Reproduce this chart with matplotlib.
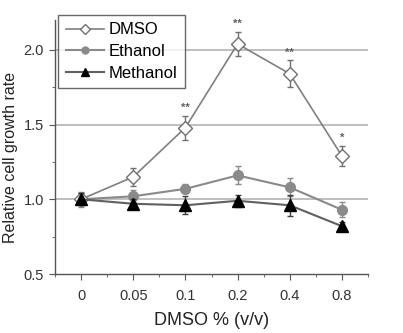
import matplotlib
matplotlib.use("Agg")
import matplotlib.pyplot as plt
from matplotlib.lines import Line2D
from matplotlib.ticker import MultipleLocator

plt.rcParams["font.family"] = ["Liberation Sans", "DejaVu Sans"]

# concentrations (categorical x axis)
conc_labels = ["0", "0.05", "0.1", "0.2", "0.4", "0.8"]

dmso = [1.00, 1.15, 1.48, 2.04, 1.84, 1.29]
dmso_err = [0.04, 0.06, 0.08, 0.08, 0.09, 0.07]
ethanol = [1.00, 1.02, 1.07, 1.16, 1.08, 0.93]
ethanol_err = [0.05, 0.04, 0.03, 0.06, 0.06, 0.05]
methanol = [1.00, 0.97, 0.96, 0.99, 0.96, 0.82]
methanol_err = [0.04, 0.03, 0.06, 0.04, 0.07, 0.03]

# significance marks over the DMSO series
stars = ["", "", "**", "**", "**", "*"]

x = list(range(len(conc_labels)))

fig = plt.figure(figsize=(4.03, 3.33), dpi=100)
ax = fig.add_axes([55 / 403, 59 / 333, 313 / 403, 254 / 333])

for yv in [1.0, 1.5, 2.0]:
    ax.axhline(yv, color="#b4b4b4", lw=1.2, zorder=0)

ax.errorbar(x, dmso, yerr=dmso_err, color="#808080", lw=1.2, marker="D",
            ms=7, mfc="white", mec="#707070", mew=1.0, ecolor="#707070",
            elinewidth=1.0, capsize=2.5, zorder=3)
ax.errorbar(x, ethanol, yerr=ethanol_err, color="#8a8a8a", lw=1.5, marker="o",
            ms=7, mfc="#8a8a8a", mec="#8a8a8a", ecolor="#8a8a8a",
            elinewidth=1.0, capsize=2.5, zorder=2)
ax.errorbar(x, methanol, yerr=methanol_err, color="#606060", lw=1.5, marker="^",
            ms=8, mfc="black", mec="black", ecolor="#404040",
            elinewidth=1.0, capsize=2.5, zorder=4)

for xi, v, e, s in zip(x, dmso, dmso_err, stars):
    if s:
        ax.text(xi, v + e + 0.02, s, ha="center", va="bottom",
                fontsize=8, color="#606060", fontweight="bold")

ax.set_xlim(-0.5, 5.5)
ax.set_ylim(0.5, 2.2)
ax.set_xticks(x)
ax.set_xticklabels(conc_labels)
ax.xaxis.set_minor_locator(MultipleLocator(0.5))
ax.set_yticks([0.5, 1.0, 1.5, 2.0])
ax.yaxis.set_minor_locator(MultipleLocator(0.25))

for side in ["top", "right"]:
    ax.spines[side].set_visible(False)
for side in ["left", "bottom"]:
    ax.spines[side].set_color("#555555")
    ax.spines[side].set_linewidth(1.0)

ax.tick_params(which="major", length=4, color="#555555", labelsize=10.5,
               labelcolor="#333333")
ax.tick_params(axis="x", which="major", pad=7)
ax.tick_params(axis="y", which="major", pad=4)
ax.tick_params(which="minor", length=2.5, color="#555555")

ax.set_xlabel("DMSO % (v/v)", fontsize=13, color="#222222", labelpad=6)
ax.set_ylabel("Relative cell growth rate", fontsize=11.5, color="#222222")
ax.yaxis.set_label_coords(-0.118, 0.46)

# legend keys: plain line + small marker, no error bars
handles = [
    Line2D([], [], color="#808080", lw=1.2, marker="D", ms=5,
           mfc="white", mec="#707070"),
    Line2D([], [], color="#8a8a8a", lw=1.5, marker="o", ms=5,
           mfc="#8a8a8a", mec="#8a8a8a"),
    Line2D([], [], color="#606060", lw=1.5, marker="^", ms=6,
           mfc="black", mec="black"),
]
leg = ax.legend(handles, ["DMSO", "Ethanol", "Methanol"], loc="upper left",
                bbox_to_anchor=(0.01, 1.02), fontsize=12, frameon=True,
                fancybox=False, edgecolor="#444444", handlelength=2.3,
                borderpad=0.45, labelspacing=0.4, handletextpad=0.3,
                borderaxespad=0.0)
leg.get_frame().set_linewidth(1.0)

fig.savefig("out.png", dpi=100, facecolor="white")
